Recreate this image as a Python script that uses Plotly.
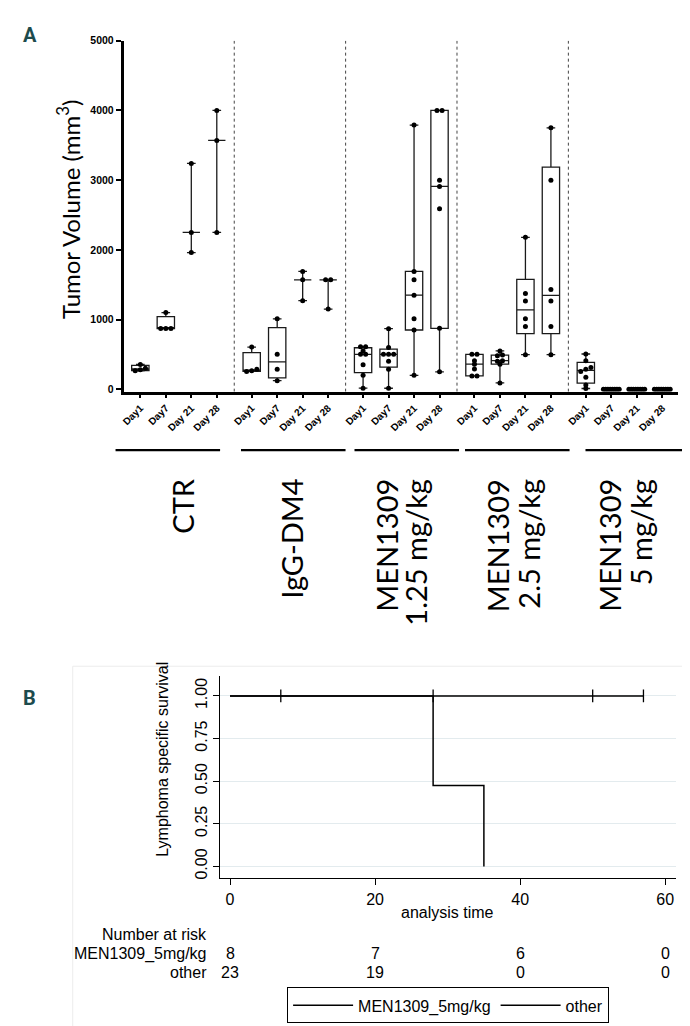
import numpy as np
import plotly.graph_objects as go

W, H = 690, 1026

# ---------------- Panel A data ----------------
group_line1 = ["CTR", "IgG-DM4", "MEN1309", "MEN1309", "MEN1309"]
group_line2 = ["", "", "1.25 mg/kg", "2.5 mg/kg", "5 mg/kg"]
days = ["Day1", "Day7", "Day 21", "Day 28"]

ctr_day1 = [355, 300, 280, 265]
ctr_day7 = [1100, 870, 870, 870]
ctr_day21 = [3240, 2250, 1960]
ctr_day28 = [4000, 3570, 2250]

igg_day1 = [605, 285, 265, 255]
igg_day7 = [1010, 500, 285, 123]
igg_day21 = [1690, 1570, 1270]
igg_day28 = [1570, 1570, 1150]

m125_day1 = [610, 610, 550, 500, 500, 350, 200, 15]
m125_day7 = [868, 600, 500, 500, 500, 400, 288, 14]
m125_day21 = [3790, 1690, 1570, 1350, 1010, 850, 200]
m125_day28 = [4000, 4000, 3000, 2910, 2590, 874, 250]

m25_day1 = [500, 500, 410, 360, 290, 190, 190]
m25_day7 = [550, 490, 480, 410, 400, 360, 90]
m25_day21 = [2180, 1375, 1265, 1010, 900, 496]
m25_day28 = [3750, 3000, 1430, 1265, 900, 496]

m5_day1 = [505, 410, 310, 285, 255, 170, 60, 10]
m5_day7 = [0, 0, 0, 0, 0, 0, 0, 0]
m5_day21 = [0, 0, 0, 0, 0, 0, 0, 0]
m5_day28 = [0, 0, 0, 0, 0, 0, 0, 0]

series = [
    [ctr_day1, ctr_day7, ctr_day21, ctr_day28],
    [igg_day1, igg_day7, igg_day21, igg_day28],
    [m125_day1, m125_day7, m125_day21, m125_day28],
    [m25_day1, m25_day7, m25_day21, m25_day28],
    [m5_day1, m5_day7, m5_day21, m5_day28],
]
yticks_a = [0, 1000, 2000, 3000, 4000, 5000]

# ---------------- Panel B data ----------------
km_men_time = [0, 57]
km_men_surv = [1.0, 1.0]
km_men_censor = [7, 28, 50, 57]
km_other_time = [0, 28, 35]
km_other_surv = [1.0, 0.474, 0.0]
risk_times = [0, 20, 40, 60]
risk_men = [8, 7, 6, 0]
risk_other = [23, 19, 0, 0]
yticks_b = [0, 0.25, 0.5, 0.75, 1.0]
yticklabels_b = ["0.00", "0.25", "0.50", "0.75", "1.00"]


def xp(px):
    return px / W


def yp(py):
    return 1 - py / H


GROUP_STEP = 4.37


def pos(g, d):
    return g * GROUP_STEP + d


def swarm(vals, thr=40, maxspread=0.62, step=0.2):
    vals = np.asarray(vals, dtype=float)
    order = np.argsort(vals)
    offs = np.zeros(len(vals))
    clusters = []
    cur = [order[0]]
    for i in order[1:]:
        if abs(vals[i] - vals[cur[-1]]) < thr:
            cur.append(i)
        else:
            clusters.append(cur)
            cur = [i]
    clusters.append(cur)
    for c in clusters:
        k = len(c)
        if k > 1:
            s = min(step, maxspread / (k - 1))
            for j, idx in enumerate(c):
                offs[idx] = (j - (k - 1) / 2) * s
    return offs


fig = go.Figure()

tickvals_a, ticktext_a = [], []
for g, gser in enumerate(series):
    for d, vals in enumerate(gser):
        p = pos(g, d)
        tickvals_a.append(p)
        ticktext_a.append(days[d])
        v = np.asarray(vals, dtype=float)
        if len(v) <= 3:
            med = float(np.median(v))
            q1 = q3 = med
        else:
            q1, med, q3 = np.percentile(v, [25, 50, 75], method="weibull")
        fig.add_trace(go.Box(
            x=[p], q1=[q1], median=[med], q3=[q3],
            lowerfence=[v.min()], upperfence=[v.max()],
            width=0.68, whiskerwidth=0.5,
            line=dict(color="#1a1a1a", width=1.3),
            fillcolor="rgba(255,255,255,0)",
            boxpoints=False, showlegend=False, hoverinfo="skip",
            xaxis="x", yaxis="y",
        ))
        offs = swarm(vals)
        fig.add_trace(go.Scatter(
            x=p + offs, y=v, mode="markers",
            marker=dict(size=5, color="black"),
            showlegend=False, hoverinfo="skip", xaxis="x", yaxis="y",
        ))

# Panel B traces
fig.add_trace(go.Scatter(
    x=km_men_time, y=km_men_surv, mode="lines", name="MEN1309_5mg/kg",
    line=dict(color="black", width=1.5), xaxis="x2", yaxis="y2",
))
fig.add_trace(go.Scatter(
    x=km_men_censor, y=[1.0] * len(km_men_censor), mode="markers",
    marker=dict(symbol="line-ns", size=9, line=dict(color="black", width=1.3)),
    showlegend=False, xaxis="x2", yaxis="y2",
))
fig.add_trace(go.Scatter(
    x=km_other_time, y=km_other_surv, mode="lines", name="other",
    line=dict(color="black", width=1.5, shape="hv"), xaxis="x2", yaxis="y2",
))

shapes = []
for g in range(len(series) - 1):
    sx = (pos(g, 3) + pos(g + 1, 0)) / 2
    shapes.append(dict(type="line", xref="x", yref="y", x0=sx, x1=sx, y0=-35, y1=5030,
                       line=dict(color="#444", width=1, dash="dot")))
group_line_px = [(105, 210), (231, 336), (345, 450), (456, 561), (577, 683)]
for a, b in group_line_px:
    shapes.append(dict(type="line", xref="paper", yref="paper", x0=xp(a), x1=xp(b),
                       y0=yp(440), y1=yp(440), line=dict(color="black", width=2.2)))
shapes.append(dict(type="rect", xref="paper", yref="paper", x0=xp(62), x1=xp(685),
                   y0=yp(1030), y1=yp(658), line=dict(color="#ececec", width=1)))

annotations = []
annotations.append(dict(text="<b>A</b>", xref="paper", yref="paper", x=xp(10), y=yp(21),
                        xanchor="left", yanchor="middle", showarrow=False,
                        font=dict(family="Roboto", size=20, color="#1d4b4d")))
annotations.append(dict(text="<b>B</b>", xref="paper", yref="paper", x=xp(10), y=yp(690),
                        xanchor="left", yanchor="middle", showarrow=False,
                        font=dict(family="Roboto", size=20, color="#1d4b4d")))
annotations.append(dict(text="Tumor Volume (mm<sup>3</sup>)", xref="paper", yref="paper",
                        x=xp(58), y=yp(197), textangle=-90, showarrow=False,
                        xanchor="center", yanchor="middle",
                        font=dict(family="Lato", size=24, color="black")))
line1_px = [172, 282, 377, 489, 601]
line2_px = [None, None, 406, 520, 633]
for t1, t2, x1, x2 in zip(group_line1, group_line2, line1_px, line2_px):
    annotations.append(dict(text=t1, xref="paper", yref="paper", x=xp(x1), y=yp(467),
                            textangle=-90, showarrow=False, xanchor="center", yanchor="top",
                            font=dict(family="Lato", size=29, color="black")))
    if t2:
        annotations.append(dict(text=t2, xref="paper", yref="paper", x=xp(x2), y=yp(467),
                                textangle=-90, showarrow=False, xanchor="center", yanchor="top",
                                font=dict(family="Lato", size=29, color="black")))

kmfont = dict(family="Liberation Sans", size=16, color="black")
annotations.append(dict(text="Lymphoma specific survival", xref="paper", yref="paper",
                        x=xp(152), y=yp(752), textangle=-90, showarrow=False,
                        xanchor="center", yanchor="middle",
                        font=dict(family="Liberation Sans", size=16, color="black")))
annotations.append(dict(text="analysis time", xref="x2", yref="paper", x=30, y=yp(906),
                        showarrow=False, xanchor="center", yanchor="middle", font=kmfont))
annotations.append(dict(text="Number at risk", xref="paper", yref="paper", x=xp(199), y=yp(929),
                        showarrow=False, xanchor="right", yanchor="middle", font=kmfont))
annotations.append(dict(text="MEN1309_5mg/kg", xref="paper", yref="paper", x=xp(199), y=yp(948),
                        showarrow=False, xanchor="right", yanchor="middle", font=kmfont))
annotations.append(dict(text="other", xref="paper", yref="paper", x=xp(199), y=yp(967),
                        showarrow=False, xanchor="right", yanchor="middle", font=kmfont))
for t, a, b in zip(risk_times, risk_men, risk_other):
    annotations.append(dict(text=str(a), xref="x2", yref="paper", x=t, y=yp(948),
                            showarrow=False, xanchor="center", yanchor="middle", font=kmfont))
    annotations.append(dict(text=str(b), xref="x2", yref="paper", x=t, y=yp(967),
                            showarrow=False, xanchor="center", yanchor="middle", font=kmfont))

fig.update_layout(
    width=W, height=H,
    margin=dict(l=0, r=0, t=0, b=0),
    paper_bgcolor="white", plot_bgcolor="white",
    boxmode="overlay",
    shapes=shapes, annotations=annotations,
    xaxis=dict(domain=[xp(113), xp(670)], range=[-0.66, 21.1], anchor="y",
               tickvals=tickvals_a, ticktext=ticktext_a, tickangle=-45,
               tickfont=dict(family="Liberation Sans", size=10, color="black", weight="bold"),
               ticks="outside", ticklen=4, tickwidth=1.5, tickcolor="black",
               showline=True, linecolor="black", linewidth=2.5,
               showgrid=False, zeroline=False),
    yaxis=dict(domain=[yp(381), yp(27)], range=[-35, 5000], anchor="x",
               tickvals=yticks_a, ticktext=[str(v) for v in yticks_a],
               tickfont=dict(family="Liberation Sans", size=10.5, color="black", weight="bold"),
               ticks="outside", ticklen=5, tickwidth=2, tickcolor="black",
               showline=True, linecolor="black", linewidth=2.5,
               showgrid=False, zeroline=False),
    xaxis2=dict(domain=[xp(210), xp(668)], range=[-1.37, 61.5], anchor="y2",
                tickvals=risk_times, ticktext=[str(t) for t in risk_times],
                tickfont=kmfont, ticks="outside", ticklen=6, tickcolor="black",
                showline=True, linecolor="black", linewidth=1.2,
                showgrid=False, zeroline=False),
    yaxis2=dict(domain=[yp(872), yp(668)], range=[-0.07, 1.116], anchor="x2",
                tickvals=yticks_b, ticktext=yticklabels_b, tickangle=-90,
                tickfont=kmfont, ticks="outside", ticklen=6, tickcolor="black",
                showline=True, linecolor="black", linewidth=1.2,
                showgrid=True, gridcolor="#e3ebee", gridwidth=1, zeroline=False),
    showlegend=True,
    legend=dict(orientation="h", x=xp(439), xanchor="center", y=yp(982), yanchor="top",
                bordercolor="black", borderwidth=1, bgcolor="white",
                font=dict(family="Liberation Sans", size=16, color="black"),
                itemwidth=60),
)

fig.write_html("out.html")
